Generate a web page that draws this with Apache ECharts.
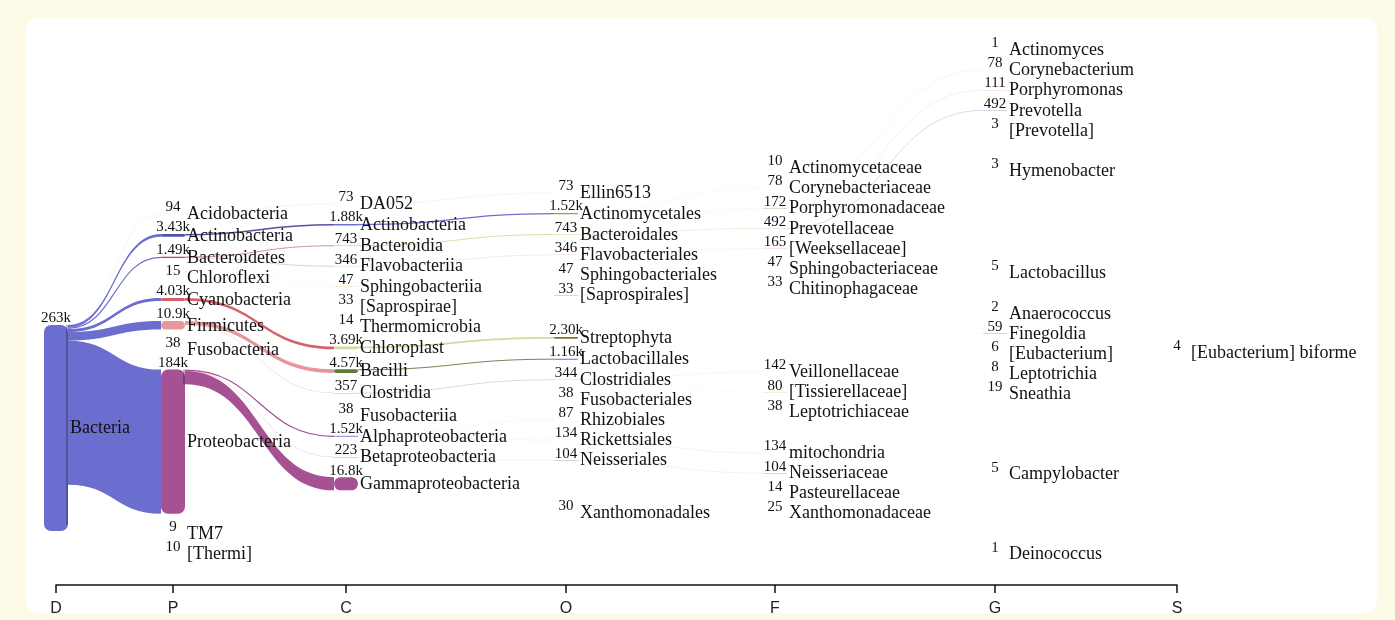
<!DOCTYPE html>
<html><head><meta charset="utf-8">
<script src="https://cdn.jsdelivr.net/npm/echarts@6/dist/echarts.min.js"></script>
<style>
html,body{margin:0;padding:0;background:#fdfae8;width:1395px;height:620px;overflow:hidden;}
#panel{position:absolute;left:26px;top:18px;width:1351px;height:595px;background:#fff;border-radius:12px;}
#chart{position:absolute;left:0;top:0;width:1395px;height:620px;}
</style></head><body><div id="panel"></div><div id="chart"></div>
<script>
// ---------------- DATA ----------------
const ranks = ['D', 'P', 'C', 'O', 'F', 'G', 'S'];

const domainNames = ['Bacteria'];
const domainValues = [263000];
const domainParents = [null];

const phylumNames = ['Acidobacteria', 'Actinobacteria', 'Bacteroidetes', 'Chloroflexi', 'Cyanobacteria', 'Firmicutes', 'Fusobacteria', 'Proteobacteria', 'TM7', '[Thermi]'];
const phylumValues = [94, 3430, 1490, 15, 4030, 10900, 38, 184000, 9, 10];
const phylumParents = ['D:Bacteria', 'D:Bacteria', 'D:Bacteria', 'D:Bacteria', 'D:Bacteria', 'D:Bacteria', 'D:Bacteria', 'D:Bacteria', 'D:Bacteria', 'D:Bacteria'];

const classNames = ['DA052', 'Actinobacteria', 'Bacteroidia', 'Flavobacteriia', 'Sphingobacteriia', '[Saprospirae]', 'Thermomicrobia', 'Chloroplast', 'Bacilli', 'Clostridia', 'Fusobacteriia', 'Alphaproteobacteria', 'Betaproteobacteria', 'Gammaproteobacteria'];
const classValues = [73, 1880, 743, 346, 47, 33, 14, 3690, 4570, 357, 38, 1520, 223, 16800];
const classParents = ['P:Acidobacteria', 'P:Actinobacteria', 'P:Bacteroidetes', 'P:Bacteroidetes', 'P:Bacteroidetes', 'P:Bacteroidetes', 'P:Chloroflexi', 'P:Cyanobacteria', 'P:Firmicutes', 'P:Firmicutes', 'P:Fusobacteria', 'P:Proteobacteria', 'P:Proteobacteria', 'P:Proteobacteria'];

const orderNames = ['Ellin6513', 'Actinomycetales', 'Bacteroidales', 'Flavobacteriales', 'Sphingobacteriales', '[Saprospirales]', 'Streptophyta', 'Lactobacillales', 'Clostridiales', 'Fusobacteriales', 'Rhizobiales', 'Rickettsiales', 'Neisseriales', 'Xanthomonadales'];
const orderValues = [73, 1520, 743, 346, 47, 33, 2300, 1160, 344, 38, 87, 134, 104, 30];
const orderParents = ['C:DA052', 'C:Actinobacteria', 'C:Bacteroidia', 'C:Flavobacteriia', 'C:Sphingobacteriia', 'C:[Saprospirae]', 'C:Chloroplast', 'C:Bacilli', 'C:Clostridia', 'C:Fusobacteriia', 'C:Alphaproteobacteria', 'C:Alphaproteobacteria', 'C:Betaproteobacteria', 'C:Gammaproteobacteria'];

const familyNames = ['Actinomycetaceae', 'Corynebacteriaceae', 'Porphyromonadaceae', 'Prevotellaceae', '[Weeksellaceae]', 'Sphingobacteriaceae', 'Chitinophagaceae', 'Veillonellaceae', '[Tissierellaceae]', 'Leptotrichiaceae', 'mitochondria', 'Neisseriaceae', 'Pasteurellaceae', 'Xanthomonadaceae'];
const familyValues = [10, 78, 172, 492, 165, 47, 33, 142, 80, 38, 134, 104, 14, 25];
const familyParents = ['O:Actinomycetales', 'O:Actinomycetales', 'O:Bacteroidales', 'O:Bacteroidales', 'O:Flavobacteriales', 'O:Sphingobacteriales', 'O:[Saprospirales]', 'O:Clostridiales', 'O:Clostridiales', 'O:Fusobacteriales', 'O:Rickettsiales', 'O:Neisseriales', 'C:Gammaproteobacteria', 'O:Xanthomonadales'];

const genusNames = ['Actinomyces', 'Corynebacterium', 'Porphyromonas', 'Prevotella', '[Prevotella]', 'Hymenobacter', 'Lactobacillus', 'Anaerococcus', 'Finegoldia', '[Eubacterium]', 'Leptotrichia', 'Sneathia', 'Campylobacter', 'Deinococcus'];
const genusValues = [1, 78, 111, 492, 3, 3, 5, 2, 59, 6, 8, 19, 5, 1];
const genusParents = ['F:Actinomycetaceae', 'F:Corynebacteriaceae', 'F:Porphyromonadaceae', 'F:Prevotellaceae', 'O:Bacteroidales', 'P:Bacteroidetes', 'O:Lactobacillales', 'F:[Tissierellaceae]', 'F:[Tissierellaceae]', 'P:Firmicutes', 'F:Leptotrichiaceae', 'F:Leptotrichiaceae', 'P:Proteobacteria', 'P:[Thermi]'];

const speciesNames = ['[Eubacterium] biforme'];
const speciesValues = [4];
const speciesParents = ['G:[Eubacterium]'];

// ---------------- LAYOUT / STYLE ----------------
const columnX = [0, 117, 290, 510, 719, 939, 1121];          // axis units of the rank columns
const columnStartRow = [19.15, 8.45, 7.95, 7.4, 6.15, 0.25, 15.4]; // first node centre, in rows
const ROW_PAD = 1;                 // gap between stacked nodes, rows
const ROWS_PER_COUNT = 3.916e-5;   // node / link thickness scale, rows per read
const NODE_W = 24;
const extraGapRows = {
  'C:Fusobacteriia': 0.13, 'O:Streptophyta': 1.09, 'O:Xanthomonadales': 1.63,
  'F:Veillonellaceae': 3.16, 'F:mitochondria': 1.04,
  'G:Hymenobacter': 1.0, 'G:Lactobacillus': 4.12, 'G:Anaerococcus': 1.02,
  'G:Campylobacter': 3.04, 'G:Deinococcus': 3.0
};
const nodeColors = {
  'D:Bacteria': '#6b6ecf',
  'P:Acidobacteria': '#393b79', 'P:Actinobacteria': '#5254a3', 'P:Bacteroidetes': '#ad494a', 'P:Chloroflexi': '#8ca252',
  'P:Cyanobacteria': '#d6616b', 'P:Firmicutes': '#e7969c', 'P:Fusobacteria': '#bd9e39', 'P:Proteobacteria': '#a55194',
  'P:TM7': '#ce6dbd', 'P:[Thermi]': '#de9ed6',
  'C:DA052': '#393b79', 'C:Actinobacteria': '#6b6ecf', 'C:Bacteroidia': '#b5cf6b', 'C:Flavobacteriia': '#de9ed6',
  'C:Sphingobacteriia': '#e7ba52', 'C:[Saprospirae]': '#e7cb94', 'C:Thermomicrobia': '#843c39', 'C:Chloroplast': '#cedb9c',
  'C:Bacilli': '#637939', 'C:Clostridia': '#8c6d31', 'C:Fusobacteriia': '#bd9e39', 'C:Alphaproteobacteria': '#9c9ede',
  'C:Betaproteobacteria': '#7b4173', 'C:Gammaproteobacteria': '#a55194',
  'O:Ellin6513': '#393b79', 'O:Actinomycetales': '#8ca252', 'O:Bacteroidales': '#cedb9c', 'O:Flavobacteriales': '#de9ed6',
  'O:Sphingobacteriales': '#e7cb94', 'O:[Saprospirales]': '#ad494a', 'O:Streptophyta': '#8c6d31', 'O:Lactobacillales': '#6b6ecf',
  'O:Clostridiales': '#e7969c', 'O:Fusobacteriales': '#bd9e39', 'O:Rhizobiales': '#5254a3', 'O:Rickettsiales': '#d6616b',
  'O:Neisseriales': '#7b4173', 'O:Xanthomonadales': '#ce6dbd',
  'F:Actinomycetaceae': '#e7ba52', 'F:Corynebacteriaceae': '#843c39', 'F:Porphyromonadaceae': '#637939', 'F:Prevotellaceae': '#9c9ede',
  'F:[Weeksellaceae]': '#e7969c', 'F:Sphingobacteriaceae': '#393b79', 'F:Chitinophagaceae': '#bd9e39', 'F:Veillonellaceae': '#ce6dbd',
  'F:[Tissierellaceae]': '#b5cf6b', 'F:Leptotrichiaceae': '#8c6d31', 'F:mitochondria': '#d6616b', 'F:Neisseriaceae': '#5254a3',
  'F:Pasteurellaceae': '#a55194', 'F:Xanthomonadaceae': '#e7cb94'
};
const fallbackColors = ['#393b79', '#5254a3', '#6b6ecf', '#9c9ede', '#637939', '#8ca252', '#b5cf6b', '#cedb9c', '#8c6d31', '#bd9e39', '#e7ba52', '#e7cb94', '#843c39', '#ad494a', '#d6616b', '#e7969c', '#7b4173', '#a55194', '#ce6dbd', '#de9ed6'];

// ---------------- BUILD ----------------
const rankData = [
  [domainNames, domainValues, domainParents],
  [phylumNames, phylumValues, phylumParents],
  [classNames, classValues, classParents],
  [orderNames, orderValues, orderParents],
  [familyNames, familyValues, familyParents],
  [genusNames, genusValues, genusParents],
  [speciesNames, speciesValues, speciesParents]
];
const nodes = [];
const byKey = {};
rankData.forEach(function (rd, r) {
  rd[0].forEach(function (name, i) {
    const n = { key: ranks[r] + ':' + name, name: name, value: rd[1][i], parent: rd[2][i], rank: r, children: [] };
    n.color = nodeColors[n.key] || fallbackColors[nodes.length % fallbackColors.length];
    nodes.push(n); byKey[n.key] = n;
  });
});
nodes.forEach(function (n) { if (n.parent && byKey[n.parent]) byKey[n.parent].children.push(n); });
ranks.forEach(function (rk, r) {
  let prevBottom = null;
  nodes.filter(function (n) { return n.rank === r; }).forEach(function (n) {
    const h = n.value * ROWS_PER_COUNT;
    const gap = extraGapRows[n.key] || 0;
    n.h = h;
    n.center = prevBottom === null ? columnStartRow[r] : prevBottom + ROW_PAD + gap + h / 2;
    n.top = n.center - h / 2;
    prevBottom = n.center + h / 2;
  });
});
const links = [];
nodes.forEach(function (n) {
  let off = 0;
  n.children.forEach(function (c) {
    const h = c.value * ROWS_PER_COUNT;
    links.push({ src: n, tgt: c, y0: n.top + off, y1: c.top, h: h });
    off += h;
  });
  n.childSpan = off;
});

function fmt(v) {
  if (v >= 1000) return (v / 1000).toPrecision(3) + 'k';
  return String(v);
}

const nodeData = nodes.map(function (n, i) { return [columnX[n.rank], n.center, i]; });
const linkData = links.map(function (l, i) { return [columnX[l.src.rank], l.y0, columnX[l.tgt.rank], l.y1, i]; });

function renderLink(params, api) {
  const l = links[api.value(4)];
  const p0 = api.coord([api.value(0), api.value(1)]);
  const p1 = api.coord([api.value(2), api.value(3)]);
  const rowPx = Math.abs(api.coord([0, 1])[1] - api.coord([0, 0])[1]);
  const h = l.h * rowPx;
  const x0 = p0[0] + NODE_W / 2, x1 = p1[0] - NODE_W / 2;
  const y0 = p0[1], y1 = p1[1];
  const xm = (x0 + x1) / 2;
  if (h < 1.5) {
    // thin link: a stroked curve whose width is the link thickness
    const ya = y0 + h / 2, yb = y1 + h / 2;
    return { type: 'bezierCurve',
      shape: { x1: x0, y1: ya, cpx1: xm, cpy1: ya, cpx2: xm, cpy2: yb, x2: x1, y2: yb },
      style: { stroke: l.src.color, lineWidth: h, fill: null } };
  }
  const d = 'M' + x0 + ',' + y0 + 'C' + xm + ',' + y0 + ' ' + xm + ',' + y1 + ' ' + x1 + ',' + y1 +
    'L' + x1 + ',' + (y1 + h) + 'C' + xm + ',' + (y1 + h) + ' ' + xm + ',' + (y0 + h) + ' ' + x0 + ',' + (y0 + h) + 'Z';
  return { type: 'path', shape: { pathData: d }, style: { fill: l.src.color } };
}

function renderNode(params, api) {
  const n = nodes[api.value(2)];
  const c = api.coord([api.value(0), api.value(1)]);
  const rowPx = Math.abs(api.coord([0, 1])[1] - api.coord([0, 0])[1]);
  const h = n.h * rowPx;
  const top = c[1] - h / 2;
  const children = [
    { type: 'rect', shape: { x: c[0] - NODE_W / 2, y: top, width: NODE_W, height: h, r: Math.min(h / 2, 7) },
      style: { fill: n.color } }
  ];
  if (n.childSpan > 0 && n.childSpan * rowPx > 4) {
    children.push({ type: 'line', shape: { x1: c[0] + NODE_W / 2 - 1, y1: top, x2: c[0] + NODE_W / 2 - 1, y2: top + Math.max(n.childSpan * rowPx, n.rank === 0 ? h - 6 : 0) },
      style: { stroke: 'rgba(30,30,60,0.55)', lineWidth: 1.2 } });
  }
  children.push({ type: 'text', x: c[0] + 14, y: c[1] + 0.5, z2: 10,
    style: { text: n.name, fontSize: 18, fontFamily: '"Liberation Serif", "Times New Roman", serif', fill: '#111', align: 'left', verticalAlign: 'middle' } });
  children.push({ type: 'text', x: c[0], y: top - 6.5, z2: 10,
    style: { text: fmt(n.value), fontSize: 15, fontFamily: '"Liberation Serif", "Times New Roman", serif', fill: '#111', align: 'center', verticalAlign: 'middle' } });
  return { type: 'group', children: children };
}

const chart = echarts.init(document.getElementById('chart'), null, { renderer: 'canvas' });
chart.setOption({
  animation: false,
  backgroundColor: 'transparent',
  grid: { left: 56, right: 218, top: 45, bottom: 35, containLabel: false, outerBoundsMode: 'none' },
  xAxis: {
    type: 'value', min: 0, max: columnX[columnX.length - 1],
    splitLine: { show: false },
    axisLine: { show: true, onZero: false, lineStyle: { color: '#111', width: 1.5 } },
    axisTick: { show: true, customValues: columnX, length: 8, lineStyle: { color: '#111', width: 1.5 } },
    axisLabel: {
      customValues: columnX, margin: 16, fontSize: 16, color: '#222',
      fontFamily: '"Liberation Sans", Arial, sans-serif',
      formatter: function (v) { const i = columnX.indexOf(v); return i >= 0 ? ranks[i] : ''; }
    }
  },
  yAxis: { type: 'value', inverse: true, min: 0, max: 27, show: false },
  series: [
    { type: 'custom', name: 'links', data: linkData, encode: { x: [0, 2], y: [1, 3] }, renderItem: renderLink, clip: false, silent: true, z: 1 },
    { type: 'custom', name: 'nodes', data: nodeData, encode: { x: 0, y: 1 }, renderItem: renderNode, clip: false, silent: true, z: 2 }
  ]
});
</script></body></html>
